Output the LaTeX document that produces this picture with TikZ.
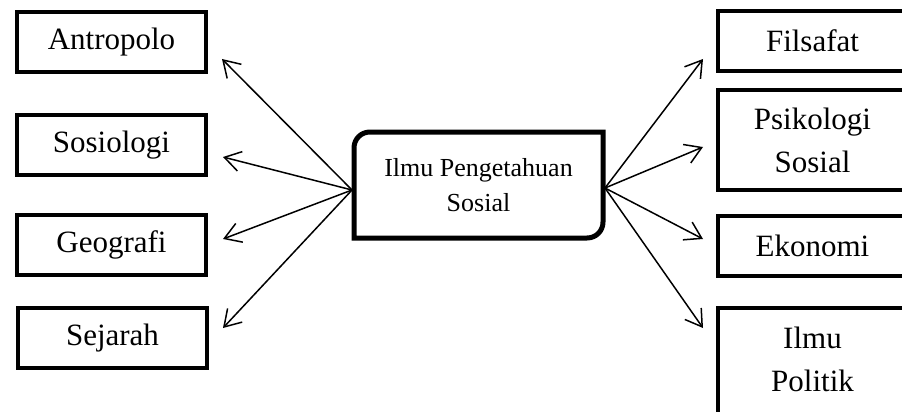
\documentclass[tikz,border=0pt]{standalone}
\usepackage{fontspec}
\setmainfont{Liberation Serif}
\usetikzlibrary{arrows.meta,positioning}

\begin{document}
\begin{tikzpicture}[x=1pt, y=-1pt, node distance=100pt, auto,
                    every edge/.style={draw,solid,line width=1.5pt},
                    sidebox/.style={draw, line width=4pt, minimum width=189pt, minimum height=60pt,
                                    inner sep=0pt, outer sep=0pt, align=center,
                                    font=\fontsize{31}{43}\selectfont},
                    hubbox/.style={minimum width=249pt, minimum height=106pt, inner sep=0pt,
                                   outer sep=0pt, align=center, font=\fontsize{26}{35}\selectfont},
                    >={Straight Barb[length=16pt,width=20pt]}]

\useasboundingbox (0,0) rectangle (902,412);
\clip (0,0) rectangle (902,412);

\node[hubbox] (ctr) at (478.5,185) {Ilmu Pengetahuan\\Sosial};
\draw[line width=5pt] (ctr.south west) -- ([yshift=-16pt]ctr.north west)
  .. controls ([yshift=-7pt]ctr.north west) and ([xshift=7pt]ctr.north west) .. ([xshift=16pt]ctr.north west)
  -- (ctr.north east) -- ([yshift=16pt]ctr.south east)
  .. controls ([yshift=7pt]ctr.south east) and ([xshift=-7pt]ctr.south east) .. ([xshift=-16pt]ctr.south east)
  -- cycle;

\node[sidebox] (antro) at (111.5,42) {Antropolo};
\node[sidebox] (sosio) [below of=antro, yshift=-3pt] {Sosiologi};
\node[sidebox] (geo) [below of=sosio, yshift=0pt] {Geografi};
\node[sidebox] (sejarah) [below of=geo, yshift=7pt, xshift=1pt] {Sejarah};

\node[sidebox] (filsafat) at (812.5,41) {Filsafat};
\node[sidebox, minimum height=100pt] (psiko) [below of=filsafat, yshift=1pt] {Psikologi\\Sosial};
\node[sidebox] (ekonomi) [below of=psiko, yshift=-6pt] {Ekonomi};
\node[sidebox, anchor=north, text depth=60pt, inner ysep=19pt] (politik) at (812.5,308) {Ilmu\\Politik};

\coordinate (lhub) at ([shift={(-2,5)}]ctr.west);
\coordinate (rhub) at ([shift={(2,3)}]ctr.east);

\path[->]
(lhub) edge ([shift={(16,17)}]antro.east)
(lhub) edge ([shift={(17,12)}]sosio.east)
(lhub) edge ([shift={(17,-6)}]geo.east)
(lhub) edge ([shift={(16,-10)}]sejarah.east)
(rhub) edge ([shift={(-15,18)}]filsafat.west)
(rhub) edge ([shift={(-15,7)}]psiko.west)
(rhub) edge ([shift={(-15,-7)}]ekonomi.west)
(rhub) edge ([shift={(-15,20)}]politik.north west) ;
\end{tikzpicture}
\end{document}
